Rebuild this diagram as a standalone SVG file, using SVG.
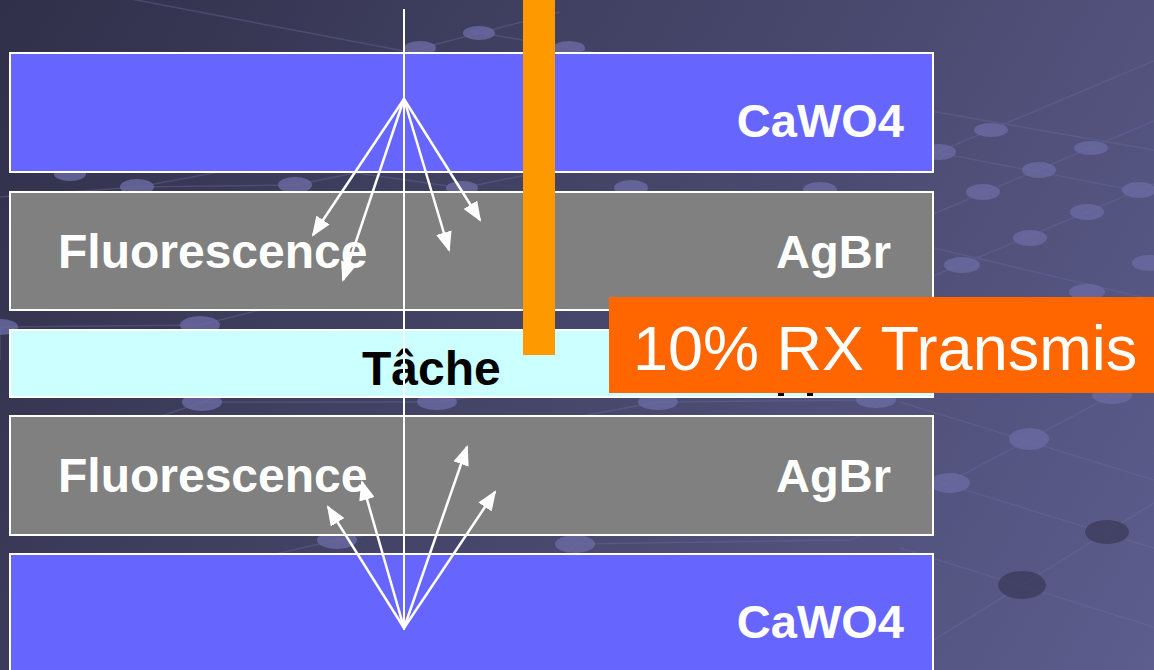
<svg xmlns="http://www.w3.org/2000/svg" width="1154" height="670" viewBox="0 0 1154 670">
<defs>
<linearGradient id="bg" x1="0" y1="0" x2="1154" y2="670" gradientUnits="userSpaceOnUse">
<stop offset="0" stop-color="#30304a"/>
<stop offset="0.5" stop-color="#46466a"/>
<stop offset="1" stop-color="#5d5d8e"/>
</linearGradient>
<marker id="ah" markerUnits="userSpaceOnUse" markerWidth="20" markerHeight="16" refX="18" refY="8" orient="auto">
<path d="M0,0 L20,8 L0,16 Z" fill="#ffffff"/>
</marker>
<style>
.layer{stroke:#ffffff;stroke-width:2}
.cawo{fill:#6666ff}
.agbr{fill:#808080}
.tache{fill:#ccffff}
.lbl{font-family:"Liberation Sans",Arial,sans-serif;font-weight:bold;font-size:47px;fill:#ffffff}
.big{font-size:48px}
.grid{stroke:#6a6aa0;stroke-width:1.5;fill:none;opacity:0.4}
.dot{fill:#6a6aa2;opacity:0.8}
.ddot{fill:#3c3c5c;opacity:0.8}
.ray{stroke:#ffffff;stroke-width:2.5;fill:none;marker-end:url(#ah)}
</style>
</defs>
<g id="background">
<rect width="1154" height="670" fill="url(#bg)"/>
<g class="grid">
<path d="M330,72 L560,12"/>
<path d="M470,31 L1154,150"/>
<path d="M0,-26 L1154,194"/>
<path d="M0,197 L138,187 L230,170"/>
<path d="M138,187 L295,185 L470,150"/>
<path d="M300,165 L462,188 L600,160"/>
<path d="M1154,61 L900,168"/>
<path d="M1154,121 L900,228"/>
<path d="M1154,184 L900,290"/>
<path d="M900,240 L1154,300"/>
<path d="M0,360 L0,327 L200,325 L300,300"/>
<path d="M150,420 L202,402 L260,380"/>
<path d="M202,402 L437,402 L520,390"/>
<path d="M560,420 L658,402 L876,400 L1000,380"/>
<path d="M1154,373 L900,508"/>
<path d="M1154,503 L900,661"/>
<path d="M900,402 L1154,480"/>
<path d="M900,470 L1154,548"/>
<path d="M900,548 L1154,627"/>
<path d="M250,560 L337,540 L450,520"/>
<path d="M560,560 L575,544 L850,540 L900,520"/>
</g>
<ellipse class="dot" cx="479" cy="33" rx="16" ry="7"/>
<ellipse class="dot" cx="420" cy="48" rx="16" ry="7"/>
<ellipse class="dot" cx="569" cy="48" rx="16" ry="7"/>
<ellipse class="dot" cx="70" cy="174" rx="16" ry="7"/>
<ellipse class="dot" cx="137" cy="187" rx="17" ry="8"/>
<ellipse class="dot" cx="295" cy="185" rx="17" ry="8"/>
<ellipse class="dot" cx="462" cy="188" rx="16" ry="7"/>
<ellipse class="dot" cx="631" cy="188" rx="17" ry="8"/>
<ellipse class="dot" cx="820" cy="190" rx="17" ry="8"/>
<ellipse class="dot" cx="991" cy="130" rx="17" ry="7"/>
<ellipse class="dot" cx="1091" cy="148" rx="17" ry="7"/>
<ellipse class="dot" cx="939" cy="152" rx="17" ry="8"/>
<ellipse class="dot" cx="1039" cy="170" rx="17" ry="8"/>
<ellipse class="dot" cx="1139" cy="190" rx="17" ry="8"/>
<ellipse class="dot" cx="983" cy="192" rx="17" ry="8"/>
<ellipse class="dot" cx="1087" cy="212" rx="17" ry="8"/>
<ellipse class="dot" cx="1030" cy="238" rx="17" ry="8"/>
<ellipse class="dot" cx="1149" cy="263" rx="17" ry="8"/>
<ellipse class="dot" cx="962" cy="265" rx="18" ry="8"/>
<ellipse class="dot" cx="1087" cy="292" rx="18" ry="8"/>
<ellipse class="dot" cx="0" cy="327" rx="18" ry="8"/>
<ellipse class="dot" cx="200" cy="325" rx="20" ry="9"/>
<ellipse class="dot" cx="202" cy="402" rx="20" ry="9"/>
<ellipse class="dot" cx="437" cy="402" rx="20" ry="8"/>
<ellipse class="dot" cx="658" cy="402" rx="20" ry="8"/>
<ellipse class="dot" cx="876" cy="400" rx="20" ry="8"/>
<ellipse class="dot" cx="1112" cy="395" rx="20" ry="9"/>
<ellipse class="dot" cx="1029" cy="439" rx="20" ry="11"/>
<ellipse class="dot" cx="950" cy="483" rx="20" ry="10"/>
<ellipse class="dot" cx="337" cy="540" rx="20" ry="9"/>
<ellipse class="dot" cx="575" cy="544" rx="20" ry="9"/>
<ellipse class="ddot" cx="1107" cy="532" rx="22" ry="12"/>
<ellipse class="ddot" cx="1022" cy="585" rx="24" ry="14"/>
</g>
<g id="cawo4-top">
<rect class="layer cawo" x="10" y="53" width="923" height="119"/>
<text class="lbl" x="904" y="137" text-anchor="end">CaWO4</text>
</g>
<g id="agbr-top">
<rect class="layer agbr" x="10" y="192" width="923" height="118"/>
<text class="lbl big" x="58" y="268">Fluorescence</text>
<text class="lbl" x="891" y="268" text-anchor="end">AgBr</text>
</g>
<g id="tache">
<rect class="layer tache" x="10" y="330" width="923" height="67"/>
<text class="lbl big" x="362" y="385" style="fill:#000000">Tâche</text>
<rect x="778" y="393" width="6" height="3" fill="#000000"/>
<rect x="807" y="393" width="6" height="3" fill="#000000"/>
</g>
<g id="agbr-bottom">
<rect class="layer agbr" x="10" y="416" width="923" height="119"/>
<text class="lbl big" x="58" y="492">Fluorescence</text>
<text class="lbl" x="891" y="492" text-anchor="end">AgBr</text>
</g>
<g id="cawo4-bottom">
<rect class="layer cawo" x="10" y="554" width="923" height="130"/>
<text class="lbl" x="904" y="638" text-anchor="end">CaWO4</text>
</g>
<g id="connectors">
<line x1="404" y1="9" x2="404" y2="630" stroke="#ffffff" stroke-width="2"/>
<line class="ray" x1="404" y1="99" x2="313" y2="235"/>
<line class="ray" x1="404" y1="99" x2="343" y2="280"/>
<line class="ray" x1="404" y1="99" x2="449" y2="250"/>
<line class="ray" x1="404" y1="99" x2="480" y2="220"/>
<line class="ray" x1="404" y1="628" x2="328" y2="507"/>
<line class="ray" x1="404" y1="628" x2="362" y2="482"/>
<line class="ray" x1="404" y1="628" x2="467" y2="447"/>
<line class="ray" x1="404" y1="628" x2="495" y2="492"/>
</g>
<g id="xray-beam">
<rect x="523" y="0" width="32" height="355" fill="#ff9900"/>
</g>
<g id="transmission-label">
<rect x="609" y="297" width="545" height="96" fill="#ff6600"/>
<text x="633" y="370" font-family="'Liberation Sans', Arial, sans-serif" font-size="63" fill="#ffffff">10% RX Transmis</text>
</g>
</svg>
